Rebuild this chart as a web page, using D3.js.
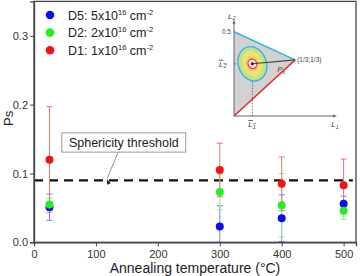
<!DOCTYPE html>
<html>
<head>
<meta charset="utf-8">
<script src="https://cdn.jsdelivr.net/npm/d3@7"></script>
<style>
  body { margin: 0; background: #fff; }
  text { font-family: "Liberation Sans", Arial, sans-serif; }
</style>
</head>
<body>
<div id="viz"></div>
<script>
const width = 362;
const height = 276;
const margin = { top: 2, right: 6, bottom: 34, left: 34 };

// data
const temps = [25, 300, 400, 500];
const seriesNames = ['D5', 'D2', 'D1'];
const seriesDose = ['5', '2', '1'];
const seriesColors = ['#0a0ff0', '#22ee22', '#f01414'];
const barColors = ['#7a7cf0', '#8cef8c', '#ee7070'];
const d5Values = [0.051, 0.023, 0.035, 0.056];
const d5Errors = [0.019, 0.030, 0.034, 0.011];
const d2Values = [0.055, 0.073, 0.054, 0.046];
const d2Errors = [0.009, 0.026, 0.046, 0.013];
const d1Values = [0.120, 0.105, 0.085, 0.083];
const d1Errors = [0.077, 0.039, 0.039, 0.038];
const threshold = 0.09;
const xTicks = [0, 100, 200, 300, 400, 500];
const yTicks = [0, 0.1, 0.2, 0.3];

const series = [
  { name: seriesNames[0], dose: seriesDose[0], values: d5Values, errors: d5Errors },
  { name: seriesNames[1], dose: seriesDose[1], values: d2Values, errors: d2Errors },
  { name: seriesNames[2], dose: seriesDose[2], values: d1Values, errors: d1Errors },
];

const x = d3.scaleLinear()
  .domain([0, 520])
  .range([margin.left, width - margin.right]);

const y = d3.scaleLinear()
  .domain([0, 0.35])
  .range([height - margin.bottom + 0.3, margin.top - 0.6]);

const svg = d3.select('#viz').append('svg')
  .attr('width', width)
  .attr('height', height);

// inset scales (L1, L2 diagram)
const l1 = d3.scaleLinear().domain([0, 0.55]).range([234, 335]);
const l2 = d3.scaleLinear().domain([0, 0.56]).range([116, 21.7]);

const inset = svg.append('g');

inset.append('path')
  .attr('fill', '#d2d2d2')
  .attr('d', d3.line()([[l1(0), l2(0.5)], [l1(1 / 3), l2(1 / 3)], [l1(0), l2(0)]]) + 'Z');

inset.append('line')
  .attr('x1', l1(0)).attr('y1', l2(0.5))
  .attr('x2', l1(1 / 3)).attr('y2', l2(1 / 3))
  .attr('stroke', '#35b4e0').attr('stroke-width', 1.6);

inset.append('line')
  .attr('x1', l1(0)).attr('y1', l2(0))
  .attr('x2', l1(1 / 3)).attr('y2', l2(1 / 3))
  .attr('stroke', '#e03030').attr('stroke-width', 1.6);

// axes of the inset
inset.append('path')
  .attr('fill', 'none')
  .attr('stroke', '#666')
  .attr('stroke-width', 1)
  .attr('d', `M${l1(0)},${l2(0.56)}V${l2(0)}H${l1(0.55)}`);
inset.append('path')
  .attr('fill', '#666')
  .attr('d', `M${l1(0)},${l2(0.56) - 2}l-1.6,4h3.2Z M${l1(0.55) + 2},${l2(0)}l-4,-1.6v3.2Z`);

const cx = l1(0.1), cy = l2(0.31);

inset.append('line')
  .attr('x1', l1(0)).attr('y1', cy).attr('x2', cx).attr('y2', cy)
  .attr('stroke', '#555').attr('stroke-width', 0.8).attr('stroke-dasharray', '1.5,1.5');
inset.append('line')
  .attr('x1', cx).attr('y1', cy).attr('x2', cx).attr('y2', l2(0))
  .attr('stroke', '#555').attr('stroke-width', 0.8).attr('stroke-dasharray', '1.5,1.5');

const blob = inset.append('g').attr('transform', `translate(${cx},${cy}) rotate(-20)`);
blob.append('ellipse').attr('rx', 14).attr('ry', 17.5)
  .attr('fill', '#bfe28e').attr('stroke', '#3ab4e2').attr('stroke-width', 1.4);
blob.append('ellipse').attr('rx', 10).attr('ry', 13).attr('fill', '#eee46a');
blob.append('ellipse').attr('rx', 6.5).attr('ry', 7.5).attr('fill', '#f4c078');
blob.append('ellipse').attr('rx', 4.3).attr('ry', 4.8)
  .attr('fill', '#fbe3e3').attr('stroke', '#e02828').attr('stroke-width', 1);
blob.append('circle').attr('r', 1.6).attr('fill', '#e02828');

inset.append('line')
  .attr('x1', cx).attr('y1', cy).attr('x2', l1(1 / 3)).attr('y2', l2(1 / 3))
  .attr('stroke', '#444').attr('stroke-width', 1.1);
inset.append('circle').attr('cx', cx).attr('cy', cy).attr('r', 1.2).attr('fill', '#222');

const serif = '"DejaVu Serif", "Liberation Serif", serif';
function insetLabel(px, py, main, sub, bar) {
  const t = inset.append('text')
    .attr('x', px).attr('y', py)
    .attr('font-family', serif)
    .attr('font-style', 'italic')
    .attr('font-size', 8)
    .attr('fill', '#444');
  t.append('tspan').text(main)
    .style('text-decoration', bar ? 'overline' : null);
  t.append('tspan').attr('font-size', 5.5).attr('dy', 1.5).text(sub)
    .style('text-decoration', bar ? 'overline' : null);
}
insetLabel(l1(0) - 6, l2(0.56) - 3, 'L', '2', false);
insetLabel(l1(0) - 15, cy + 3, 'L', '2', true);
insetLabel(cx - 4, l2(0) + 11, 'L', '1', true);
insetLabel(l1(0.53), l2(0) + 11, 'L', '1', false);
insetLabel(l1(0.235), l2(0.26), 'P', 's', false);

inset.append('text')
  .attr('x', l1(0) - 3).attr('y', l2(0.5) + 2)
  .attr('text-anchor', 'end')
  .attr('font-size', 6.5).attr('fill', '#444')
  .text('0.5');
inset.append('text')
  .attr('x', l1(1 / 3) + 2).attr('y', l2(1 / 3) + 2)
  .attr('font-size', 6.5).attr('fill', '#444')
  .text('(1/3;1/3)');

// threshold line
svg.append('line')
  .attr('x1', x(0)).attr('x2', x(515))
  .attr('y1', y(threshold)).attr('y2', y(threshold))
  .attr('stroke', '#111')
  .attr('stroke-width', 2.2)
  .attr('stroke-dasharray', '9,6');

// annotation box
svg.append('line')
  .attr('x1', x(136)).attr('y1', y(0.131))
  .attr('x2', x(118)).attr('y2', y(threshold) - 2)
  .attr('stroke', '#777').attr('stroke-width', 0.8);
svg.append('path')
  .attr('fill', '#222')
  .attr('transform', `translate(${x(118)},${y(threshold) - 1}) rotate(${Math.atan2(x(118) - x(136), y(0.131) - y(threshold)) * -180 / Math.PI})`)
  .attr('d', 'M0,0l-2,-5h4Z');

svg.append('rect')
  .attr('x', x(45)).attr('y', y(0.159))
  .attr('width', x(245) - x(45)).attr('height', y(0.131) - y(0.159))
  .attr('fill', '#fff').attr('stroke', '#999').attr('stroke-width', 1);
svg.append('text')
  .attr('x', (x(45) + x(245)) / 2).attr('y', y(0.145) + 4.5)
  .attr('text-anchor', 'middle')
  .attr('font-size', 12.5)
  .attr('fill', '#222')
  .text('Sphericity threshold');

// error bars
series.forEach((s, i) => {
  const g = svg.append('g')
    .attr('stroke', barColors[i])
    .attr('stroke-width', 1);
  temps.forEach((t, j) => {
    const lo = Math.max(0, s.values[j] - s.errors[j]);
    const hi = s.values[j] + s.errors[j];
    g.append('line')
      .attr('x1', x(t)).attr('x2', x(t))
      .attr('y1', y(lo)).attr('y2', y(hi));
    [lo, hi].forEach(v => {
      g.append('line')
        .attr('x1', x(t) - 3).attr('x2', x(t) + 3)
        .attr('y1', y(v)).attr('y2', y(v));
    });
  });
});

// points
series.forEach((s, i) => {
  svg.append('g')
    .selectAll('circle')
    .data(temps)
    .join('circle')
    .attr('cx', d => x(d))
    .attr('cy', (d, j) => y(s.values[j]))
    .attr('r', 4)
    .attr('fill', seriesColors[i]);
});

// frame and axes
svg.append('rect')
  .attr('x', x(0)).attr('y', y(0.35))
  .attr('width', x(520) - x(0)).attr('height', y(0) - y(0.35))
  .attr('fill', 'none')
  .attr('stroke', '#444')
  .attr('stroke-width', 1.3);

const xAxis = svg.append('g')
  .attr('transform', `translate(0,${y(0)})`)
  .call(d3.axisBottom(x).tickValues(xTicks).tickSize(4).tickPadding(4));
const yAxis = svg.append('g')
  .attr('transform', `translate(${x(0)},0)`)
  .call(d3.axisLeft(y).tickValues(yTicks).tickSize(4).tickPadding(2).tickFormat(d3.format('.1f')));

[xAxis, yAxis].forEach(a => {
  a.select('.domain').attr('stroke', '#444').attr('stroke-width', 1.3);
  a.selectAll('.tick line').attr('stroke', '#444');
  a.selectAll('.tick text')
    .attr('font-family', '"Liberation Sans", Arial, sans-serif')
    .attr('font-size', 11)
    .attr('fill', '#333');
});

svg.append('text')
  .attr('x', (x(0) + x(520)) / 2).attr('y', height - 3)
  .attr('text-anchor', 'middle')
  .attr('font-size', 14)
  .attr('fill', '#222')
  .text('Annealing temperature (°C)');

svg.append('text')
  .attr('transform', `translate(13,${y(0.18)}) rotate(-90)`)
  .attr('text-anchor', 'middle')
  .attr('font-size', 13)
  .attr('fill', '#222')
  .text('Ps');

// legend
const legend = svg.append('g');
series.forEach((s, i) => {
  const ly = 15 + i * 17.6;
  legend.append('circle')
    .attr('cx', 50).attr('cy', ly).attr('r', 4.3)
    .attr('fill', seriesColors[i]);
  const t = legend.append('text')
    .attr('x', 68).attr('y', ly + 4.5)
    .attr('font-size', 12.5)
    .attr('fill', '#222');
  t.append('tspan').text(`${s.name}: ${s.dose}x10`);
  t.append('tspan').attr('font-size', 7.5).attr('dy', -5).text('16');
  t.append('tspan').attr('dy', 5).text(' cm');
  t.append('tspan').attr('font-size', 7.5).attr('dy', -5).text('-2');
});
</script>
</body>
</html>
